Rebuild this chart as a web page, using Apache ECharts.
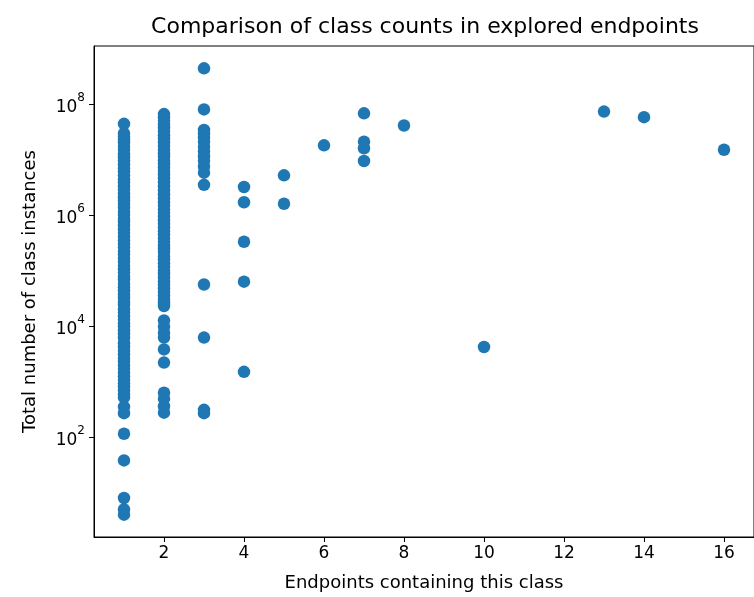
<!DOCTYPE html>
<html>
<head>
<meta charset="utf-8">
<script src="https://cdn.jsdelivr.net/npm/echarts@6/dist/echarts.min.js"></script>
<style>
html,body{margin:0;padding:0;background:#fff;}
#chart{width:754px;height:597px;}
</style>
</head>
<body>
<div id="chart"></div>
<script>
// ---- data ----
const titleText = 'Comparison of class counts in explored endpoints';
const xAxisTitle = 'Endpoints containing this class';
const yAxisTitle = 'Total number of class instances';
const xTickLabels = [2, 4, 6, 8, 10, 12, 14, 16];
const yTickExponents = [2, 4, 6, 8];

const countsAt1 = [4.4e7, 2.95e7, 2.6e7, 2.25e7, 2.0e7, 1.7e7, 1.5e7, 1.25e7, 1.1e7, 9.4e6, 8.2e6, 7.0e6, 6.1e6, 5.2e6, 4.4e6, 3.9e6, 3.3e6, 2.9e6, 2.4e6, 2.1e6, 1.8e6, 1.6e6, 1.35e6, 1.15e6, 1.0e6, 8.6e5, 7.5e5, 6.4e5, 5.5e5, 4.8e5, 4.1e5, 3.5e5, 3.0e5, 2.6e5, 2.2e5, 1.95e5, 1.65e5, 1.45e5, 1.22e5, 1.06e5, 9.2e4, 7.8e4, 6.8e4, 5.8e4, 5.0e4, 4.3e4, 3.7e4, 3.2e4, 2.7e4, 2.4e4, 2.0e4, 1.75e4, 1.5e4, 1.3e4, 1.12e4, 9.7e3, 8.4e3, 7.2e3, 6.1e3, 4.9e3, 4.2e3, 3.6e3, 3.1e3, 2.6e3, 2.3e3, 1.95e3, 1.7e3, 1.45e3, 1.25e3, 1.08e3, 930, 800, 690, 590, 520, 350, 270, 115, 38, 8, 5, 4];
const countsAt2 = [6.6e7, 5.8e7, 5.0e7, 4.3e7, 3.7e7, 3.2e7, 2.75e7, 2.35e7, 2.05e7, 1.75e7, 1.5e7, 1.3e7, 1.12e7, 9.6e6, 8.3e6, 7.1e6, 6.2e6, 5.3e6, 4.6e6, 3.9e6, 3.3e6, 2.8e6, 2.3e6, 2.0e6, 1.7e6, 1.48e6, 1.26e6, 1.1e6, 9.3e5, 8.1e5, 6.9e5, 6.0e5, 5.1e5, 4.5e5, 3.8e5, 3.3e5, 2.85e5, 2.45e5, 2.15e5, 1.8e5, 1.6e5, 1.35e5, 1.17e5, 1.0e5, 8.7e4, 7.4e4, 6.4e4, 5.5e4, 4.8e4, 4.1e4, 3.5e4, 3.0e4, 2.6e4, 2.3e4, 1.26e4, 9.8e3, 7.6e3, 6.2e3, 3.8e3, 2.2e3, 630, 490, 360, 275];
const countsAt3 = [4.4e8, 8.0e7, 3.4e7, 2.9e7, 2.5e7, 2.1e7, 1.7e7, 1.4e7, 1.15e7, 9.5e6, 7.5e6, 5.8e6, 3.5e6, 5.6e4, 6.2e3, 310, 270];
const countsAt4 = [3.2e6, 1.7e6, 3.3e5, 6.3e4, 1.5e3];
const countsAt5 = [5.2e6, 1.6e6];
const countsAt6 = [1.8e7];
const countsAt7 = [6.8e7, 2.1e7, 1.6e7, 9.4e6];
const countsAt8 = [4.1e7];
const countsAt10 = [4.2e3];
const countsAt13 = [7.3e7];
const countsAt14 = [5.8e7];
const countsAt16 = [1.5e7];

const groups = [
  [1, countsAt1], [2, countsAt2], [3, countsAt3], [4, countsAt4], [5, countsAt5],
  [6, countsAt6], [7, countsAt7], [8, countsAt8], [10, countsAt10], [13, countsAt13],
  [14, countsAt14], [16, countsAt16]
];
const points = [];
groups.forEach(([x, arr]) => arr.forEach(v => points.push([x, v])));

// matplotlib-like 5% autoscale margins
const xs = points.map(p => p[0]);
const xMin = Math.min(...xs), xMax = Math.max(...xs);
const xPad = (xMax - xMin) * 0.05;
const ls = points.map(p => Math.log10(p[1]));
const lMin = Math.min(...ls), lMax = Math.max(...ls);
const lPad = (lMax - lMin) * 0.05;

const FONT = 'DejaVu Sans';
const chart = echarts.init(document.getElementById('chart'), null, {renderer: 'canvas'});
chart.setOption({
  animation: false,
  backgroundColor: '#ffffff',
  title: {
    text: titleText,
    left: 425, top: 16, padding: 0,
    textAlign: 'center',
    textStyle: {fontFamily: FONT, fontSize: 22, fontWeight: 'normal', color: '#000'}
  },
  grid: {
    left: 94, top: 46, width: 662, height: 494,
    show: true, borderColor: '#000', borderWidth: 1, backgroundColor: 'transparent'
  },
  xAxis: {
    type: 'value',
    min: xMin - xPad, max: xMax + xPad,
    minInterval: 2, maxInterval: 2,
    name: xAxisTitle, nameLocation: 'middle', nameGap: 37,
    nameTextStyle: {fontFamily: FONT, fontSize: 18, color: '#000'},
    axisLine: {show: true, lineStyle: {color: '#000', width: 1}},
    axisTick: {show: true, length: 5, inside: false, lineStyle: {color: '#000', width: 1}},
    splitLine: {show: false},
    axisLabel: {
      fontFamily: FONT, fontSize: 17, color: '#000', margin: 8,
      showMinLabel: false, showMaxLabel: false,
      formatter: v => xTickLabels.includes(v) ? String(v) : ''
    }
  },
  yAxis: {
    type: 'log', logBase: 100,
    min: Math.pow(10, lMin - lPad), max: Math.pow(10, lMax + lPad),
    name: yAxisTitle, nameLocation: 'middle', nameGap: 55,
    nameTextStyle: {fontFamily: FONT, fontSize: 18, color: '#000'},
    axisLine: {show: true, lineStyle: {color: '#000', width: 1}},
    axisTick: {show: true, length: 5, lineStyle: {color: '#000', width: 1}},
    splitLine: {show: false},
    axisLabel: {
      color: '#000', margin: 9,
      showMinLabel: false, showMaxLabel: false,
      formatter: v => {
        const l = Math.log10(v), e = Math.round(l);
        if (Math.abs(l - e) > 1e-6 || !yTickExponents.includes(e)) return '';
        return '{b|10}{s|' + e + '}';
      },
      rich: {
        b: {fontFamily: FONT, fontSize: 17, color: '#000', lineHeight: 24, verticalAlign: 'bottom'},
        s: {fontFamily: FONT, fontSize: 12, color: '#000', lineHeight: 24, verticalAlign: 'top'}
      }
    }
  },
  series: [{
    type: 'scatter',
    data: points,
    symbol: 'circle',
    symbolSize: 12.5,
    itemStyle: {color: '#1f77b4', opacity: 1},
    emphasis: {disabled: true}
  }]
});
</script>
</body>
</html>
